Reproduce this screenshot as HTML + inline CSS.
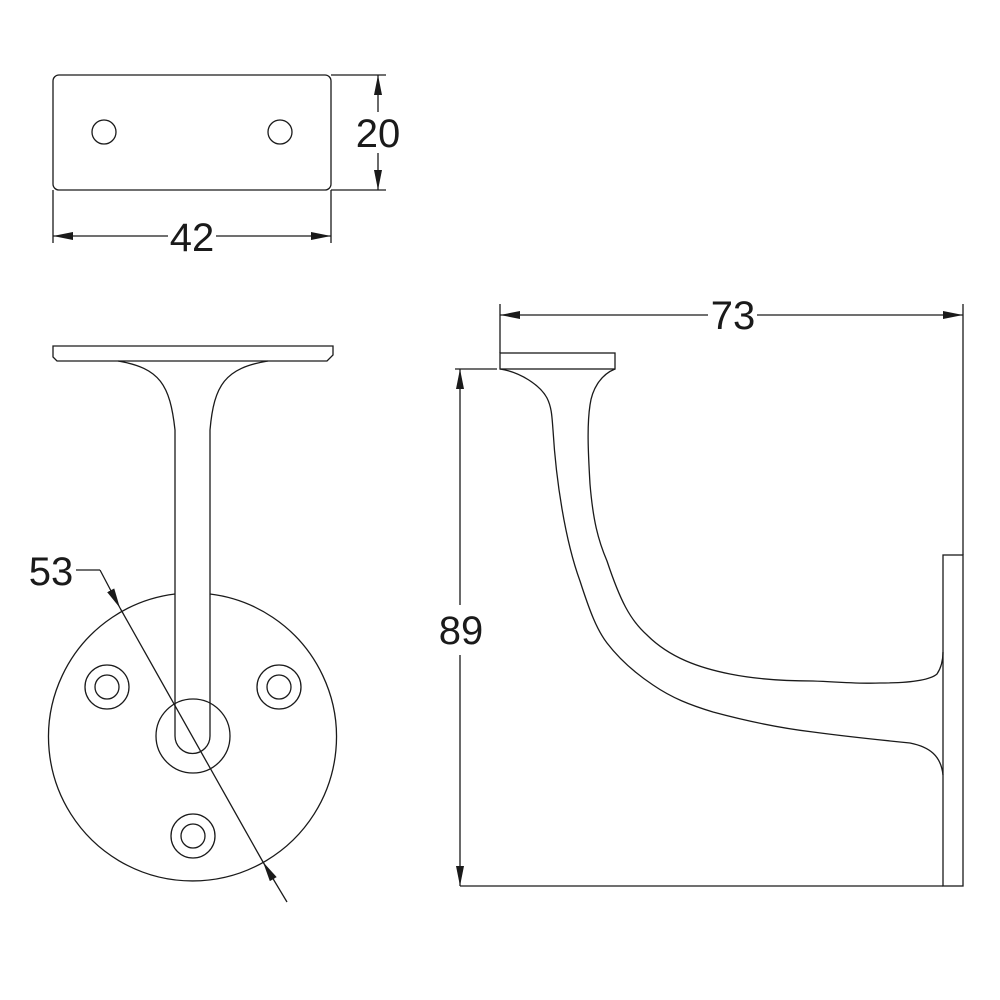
<!DOCTYPE html>
<html><head><meta charset="utf-8"><style>
html,body{margin:0;padding:0;background:#fff}
svg{display:block}
text{font-family:"Liberation Sans",Arial,sans-serif;font-size:40px;fill:#1a1a1a}
</style></head><body>
<svg width="1000" height="1000" viewBox="0 0 1000 1000" xmlns="http://www.w3.org/2000/svg">
<defs>
<marker id="a" viewBox="0 0 20 8" refX="20" refY="4" markerWidth="20" markerHeight="8" markerUnits="userSpaceOnUse" orient="auto-start-reverse"><path d="M0,0 L20,4 L0,8 z" fill="#1a1a1a"/></marker>
</defs>
<g fill="none" stroke="#1a1a1a" stroke-width="1.3">
<!-- top view -->
<rect x="53" y="75" width="278" height="115" rx="6"/>
<circle cx="104" cy="132" r="12"/>
<circle cx="280" cy="132" r="12"/>
<line x1="331" y1="75" x2="386" y2="75"/>
<line x1="331" y1="190" x2="386" y2="190"/>
<line x1="378" y1="75" x2="378" y2="112" marker-start="url(#a)"/>
<line x1="378" y1="153" x2="378" y2="190" marker-end="url(#a)"/>
<line x1="53" y1="190" x2="53" y2="243"/>
<line x1="331" y1="190" x2="331" y2="243"/>
<line x1="53" y1="236" x2="168" y2="236" marker-start="url(#a)"/>
<line x1="216" y1="236" x2="331" y2="236" marker-end="url(#a)"/>

<!-- front view -->
<path d="M53,346 L333,346 L333,355 L327,361 L57,361 L53,357 Z"/>
<path d="M118,361 C160,368 170,385 175,430 L175,736 A17.5,17.5 0 0 0 210,736 L210,430 C214,385 225,368 268,361"/>
<path d="M175,594 A144,144 0 1 0 210,594"/>
<circle cx="193" cy="736" r="37"/>
<circle cx="107" cy="687" r="22"/><circle cx="107" cy="687" r="12"/>
<circle cx="279" cy="687" r="22"/><circle cx="279" cy="687" r="12"/>
<circle cx="193" cy="836" r="22"/><circle cx="193" cy="836" r="12"/>
<line x1="76" y1="570" x2="100" y2="570"/>
<line x1="100" y1="570" x2="120" y2="608" marker-end="url(#a)"/>
<line x1="120" y1="608" x2="263" y2="862" />
<line x1="287" y1="902" x2="263" y2="862" marker-end="url(#a)"/>

<!-- side view -->
<rect x="500" y="353" width="115" height="16"/>
<path d="M500,369 C520,372 540,385 547,398 C552,408 552,418 553,430 C556,480 565,540 580,581 C590,612 597,630 607,643 C620,660 635,673 653,685 C672,698 690,705 713,712 C750,722 780,728 813,732 C850,737 880,740 910,743 C930,747 941,756 943,775"/>
<path d="M615,369 C600,375 592,390 590,405 C587,425 588,450 590,484 C593,520 598,540 607,561 C620,600 630,620 647,635 C670,658 700,668 730,674 C760,680 790,681 813,681 C840,682 860,684 880,683 C910,683 930,680 937,674 C941,668 943,660 943,652"/>
<rect x="943" y="555" width="20" height="331"/>
<line x1="460" y1="886" x2="943" y2="886"/>
<line x1="455" y1="369" x2="497" y2="369"/>
<line x1="460" y1="369" x2="460" y2="605" marker-start="url(#a)"/>
<line x1="460" y1="655" x2="460" y2="886" marker-end="url(#a)"/>
<line x1="500" y1="304" x2="500" y2="353"/>
<line x1="963" y1="304" x2="963" y2="555"/>
<line x1="500" y1="315" x2="708" y2="315" marker-start="url(#a)"/>
<line x1="757" y1="315" x2="963" y2="315" marker-end="url(#a)"/>
</g>
<text x="378" y="147" text-anchor="middle">20</text>
<text x="192" y="251" text-anchor="middle">42</text>
<text x="51" y="585" text-anchor="middle">53</text>
<text x="461" y="644" text-anchor="middle">89</text>
<text x="733" y="329" text-anchor="middle">73</text>
</svg>
</body></html>
